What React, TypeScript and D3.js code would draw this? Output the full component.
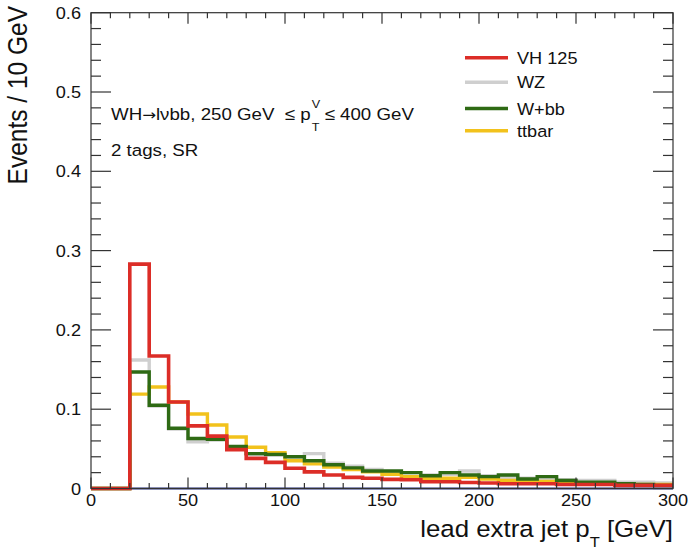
import React from "react";
import * as d3 from "d3";

// ---- data ----
const binLow = d3.range(0, 300, 10); // lower bin edges (GeV), 10 GeV bins
const xMax = 300;

const vh125 = [0, 0, 0.283, 0.167, 0.109, 0.079, 0.066, 0.049, 0.038, 0.033, 0.0255, 0.021, 0.017, 0.014, 0.013, 0.0115, 0.011, 0.0085, 0.0085, 0.0075, 0.007, 0.006, 0.006, 0.006, 0.005, 0.005, 0.005, 0.004, 0.004, 0.004];
const wz = [0, 0, 0.162, 0.104, 0.075, 0.059, 0.061, 0.052, 0.043, 0.042, 0.040, 0.044, 0.032, 0.028, 0.024, 0.021, 0.020, 0.017, 0.018, 0.022, 0.016, 0.014, 0.013, 0.012, 0.011, 0.010, 0.010, 0.008, 0.008, 0.007];
const wbb = [0, 0, 0.147, 0.105, 0.076, 0.063, 0.062, 0.053, 0.044, 0.043, 0.040, 0.035, 0.030, 0.026, 0.022, 0.022, 0.020, 0.016, 0.020, 0.017, 0.015, 0.017, 0.012, 0.015, 0.010, 0.008, 0.008, 0.006, 0.005, 0.004];
const ttbar = [0, 0, 0.119, 0.128, 0.109, 0.094, 0.080, 0.065, 0.052, 0.045, 0.035, 0.031, 0.027, 0.024, 0.021, 0.018, 0.015, 0.013, 0.013, 0.014, 0.012, 0.010, 0.009, 0.009, 0.008, 0.007, 0.006, 0.006, 0.005, 0.005];

const yMajorTicks = [0, 0.1, 0.2, 0.3, 0.4, 0.5, 0.6];
const yTickLabels = ["0", "0.1", "0.2", "0.3", "0.4", "0.5", "0.6"];
const xMajorTicks = [0, 50, 100, 150, 200, 250, 300];
const xTickLabels = ["0", "50", "100", "150", "200", "250", "300"];

const seriesNames = ["VH 125", "WZ", "W+bb", "ttbar"];

// ---- style ----
const W = 691, H = 556;
const L = 91, R = 673, T = 12.7, B = 488.5;
const SX = 1.1;
const FONT = "'Liberation Sans', Arial, Helvetica, sans-serif";
const colors: Record<string, string> = {
  "VH 125": "#dc2d27",
  "WZ": "#cfcfcf",
  "W+bb": "#2e6a14",
  "ttbar": "#f2c21c",
};

function Txt(props: any) {
  const { x, y, size, anchor = "start", rotate, children, weight } = props;
  return (
    <text
      transform={`translate(${x},${y}) scale(${SX},1)${rotate ? ` rotate(${rotate})` : ""}`}
      fontSize={size}
      textAnchor={anchor}
      fontFamily={FONT}
      fontWeight={weight}
      fill="#111"
      style={{ whiteSpace: "pre" }}
    >
      {children}
    </text>
  );
}

export default function App() {
  const x = d3.scaleLinear().domain([0, xMax]).range([L, R]);
  const y = d3.scaleLinear().domain([0, 0.6]).range([B, T]);

  const stepPath = (vals: number[]) => {
    const pts: [number, number][] = binLow.map((e, i) => [e, vals[i]]);
    pts.push([xMax, vals[vals.length - 1]]);
    return d3
      .line<[number, number]>()
      .x((d) => x(d[0]))
      .y((d) => y(d[1]))
      .curve(d3.curveStepAfter)(pts) as string;
  };

  const yMinor = d3.range(0, 0.6001, 0.02);
  const xMinor = d3.range(0, 301, 10);

  const legendY = [57.7, 82.3, 108.5, 130.7];

  return (
    <svg width={W} height={H} style={{ position: "absolute", left: 0, top: 0, background: "#fff" }}>
      <rect x={0} y={0} width={W} height={H} fill="#fff" />
      {/* histograms */}
      <path d={stepPath(wz)} fill="none" stroke={colors["WZ"]} strokeWidth={3.4} />
      <path d={stepPath(ttbar)} fill="none" stroke={colors["ttbar"]} strokeWidth={3.4} />
      <path d={stepPath(wbb)} fill="none" stroke={colors["W+bb"]} strokeWidth={3.4} />
      <line x1={x(20)} x2={x(300)} y1={y(0)} y2={y(0)} stroke="#2f3b8e" strokeWidth={2} />
      <path d={stepPath(vh125)} fill="none" stroke={colors["VH 125"]} strokeWidth={3.6} />

      {/* frame */}
      <rect x={L} y={T} width={R - L} height={B - T} fill="none" stroke="#333" strokeWidth={1.2} />

      {/* y ticks */}
      {yMinor.map((v, i) => {
        const major = Math.abs(v * 10 - Math.round(v * 10)) < 1e-6;
        const len = major ? 20 : 10;
        return (
          <g key={"yt" + i}>
            <line x1={L} x2={L + len} y1={y(v)} y2={y(v)} stroke="#333" strokeWidth={1.2} />
            <line x1={R} x2={R - len} y1={y(v)} y2={y(v)} stroke="#333" strokeWidth={1.2} />
          </g>
        );
      })}
      {/* x ticks */}
      {xMinor.map((v, i) => {
        const major = v % 50 === 0;
        const len = major ? 11 : 5.5;
        return (
          <g key={"xt" + i}>
            <line x1={x(v)} x2={x(v)} y1={B} y2={B - len} stroke="#333" strokeWidth={1.2} />
            <line x1={x(v)} x2={x(v)} y1={T} y2={T + len} stroke="#333" strokeWidth={1.2} />
          </g>
        );
      })}

      {/* tick labels */}
      {yMajorTicks.map((v, i) => (
        <Txt key={"yl" + i} x={81} y={y(v) + 6} size={16.5} anchor="end">
          {yTickLabels[i]}
        </Txt>
      ))}
      {xMajorTicks.map((v, i) => (
        <Txt key={"xl" + i} x={x(v)} y={506} size={16.5} anchor="middle">
          {xTickLabels[i]}
        </Txt>
      ))}

      {/* axis titles */}
      <Txt x={673} y={537} size={23.5} anchor="end">
        lead extra jet p
        <tspan fontSize={15} dy={10}>T</tspan>
        <tspan dy={-10}>{" [GeV]"}</tspan>
      </Txt>
      <Txt x={27} y={6} size={24.5} anchor="end" rotate={-90}>
        Events / 10 GeV
      </Txt>

      {/* annotations */}
      <Txt x={111} y={120} size={17}>
        {"WH"}
        <tspan fontFamily="'DejaVu Sans', sans-serif" fontSize={15}>{"\u2192"}</tspan>
        {"l\u03bdbb, 250 GeV  \u2264 p"}
        <tspan fontSize={11.5} dx={1} dy={-12}>V</tspan>
        <tspan fontSize={11.5} dx={-7.7} dy={23}>T</tspan>
        <tspan dy={-11}>{" \u2264 400 GeV"}</tspan>
      </Txt>
      <Txt x={111} y={156} size={17}>
        2 tags, SR
      </Txt>

      {/* legend */}
      {seriesNames.map((n, i) => (
        <g key={"lg" + i}>
          <line x1={465} x2={508} y1={legendY[i]} y2={legendY[i]} stroke={colors[n]} strokeWidth={3.4} />
          <Txt x={517} y={legendY[i] + 6} size={16.5}>
            {n}
          </Txt>
        </g>
      ))}
    </svg>
  );
}
